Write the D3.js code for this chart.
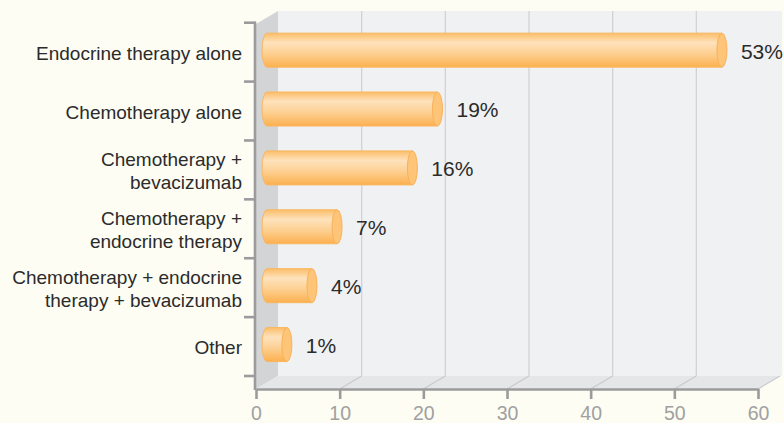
<!DOCTYPE html>
<html>
<head>
<meta charset="utf-8">
<script src="https://cdn.jsdelivr.net/npm/d3@7"></script>
<style>
  html, body { margin: 0; padding: 0; background: #fdfdf4; }
  svg { display: block; }
  text { font-family: "Liberation Sans", Arial, sans-serif; }
</style>
</head>
<body>
<div id="chart"></div>
<script>
// dados
var categories = [
  "Endocrine therapy alone",
  "Chemotherapy alone",
  "Chemotherapy +\nbevacizumab",
  "Chemotherapy +\nendocrine therapy",
  "Chemotherapy + endocrine\ntherapy + bevacizumab",
  "Other"
];
var values = [53, 19, 16, 7, 4, 1];
var valueLabels = ["53%", "19%", "16%", "7%", "4%", "1%"];
var xTicks = [0, 10, 20, 30, 40, 50, 60];

var width = 784, height = 423;

var svg = d3.select("#chart").append("svg")
  .attr("width", width)
  .attr("height", height);

var depthX = 22, depthY = 13; // 3d offset of the back wall
var axisY = 389;              // bottom axis line

var x = d3.scaleLinear().domain([0, 60]).range([256, 758]);
var y = d3.scaleBand().domain(categories).range([22.7, 376]).paddingInner(0);

var defs = svg.append("defs");

// gradient do corpo do cilindro
var grad = defs.append("linearGradient")
  .attr("id", "cyl").attr("x1", 0).attr("y1", 0).attr("x2", 0).attr("y2", 1);
grad.append("stop").attr("offset", "0%").attr("stop-color", "#fcbd68");
grad.append("stop").attr("offset", "28%").attr("stop-color", "#fee2bc");
grad.append("stop").attr("offset", "60%").attr("stop-color", "#fdd092");
grad.append("stop").attr("offset", "100%").attr("stop-color", "#fcb04f");

/*=== parede lateral, fundo e chão ===*/
var x0 = x(0), xMax = x(60);
var topBack = 11, bottomBack = axisY - depthY;

// back wall
svg.append("rect")
  .attr("x", x0 + depthX).attr("y", topBack)
  .attr("width", xMax - x0 + 2).attr("height", bottomBack - topBack)
  .attr("fill", "#f0f1f3");

// side wall
svg.append("path")
  .attr("d", "M" + x0 + "," + (topBack + depthY) + "L" + (x0 + depthX) + "," + topBack +
    "L" + (x0 + depthX) + "," + bottomBack + "L" + x0 + "," + axisY + "Z")
  .attr("fill", "#d3d4d6");

// floor
svg.append("path")
  .attr("d", "M" + x0 + "," + axisY + "L" + (x0 + depthX) + "," + bottomBack +
    "L" + (xMax + depthX) + "," + bottomBack + "L" + xMax + "," + axisY + "Z")
  .attr("fill", "#e5e6e8");

// gridlines
var grid = svg.append("g");
xTicks.filter(function(d) { return d > 0 && d < 60; }).forEach(function(d) {
  grid.append("line")
    .attr("x1", x(d) + depthX).attr("x2", x(d) + depthX)
    .attr("y1", topBack).attr("y2", bottomBack)
    .attr("stroke", "#d2d3d5").attr("stroke-width", 1.3);
});
xTicks.filter(function(d) { return d > 0; }).forEach(function(d) {
  grid.append("line")
    .attr("x1", x(d) + depthX).attr("x2", x(d))
    .attr("y1", bottomBack).attr("y2", axisY)
    .attr("stroke", "#c9cacc").attr("stroke-width", 1.2);
});

/*=== eixos ===*/
var axisColor = "#9b9b9d";

// left axis
svg.append("line")
  .attr("x1", x0 - 1).attr("x2", x0 - 1)
  .attr("y1", y.range()[0] - 1).attr("y2", axisY + 1)
  .attr("stroke", axisColor).attr("stroke-width", 2.6);

var bounds = categories.map(function(c) { return y(c); }).concat([y.range()[1]]);
svg.selectAll(".ytick")
  .data(bounds)
  .enter().append("line")
  .attr("class", "ytick")
  .attr("x1", x0 - 12).attr("x2", x0)
  .attr("y1", function(d) { return d; }).attr("y2", function(d) { return d; })
  .attr("stroke", axisColor).attr("stroke-width", 2.6);

// bottom axis
var xAxis = svg.append("g")
  .attr("transform", "translate(0," + axisY + ")")
  .call(d3.axisBottom(x).tickValues(xTicks).tickSize(10).tickSizeOuter(0).tickPadding(7));
xAxis.select(".domain").attr("stroke", axisColor).attr("stroke-width", 2.6);
xAxis.selectAll(".tick line").attr("stroke", axisColor).attr("stroke-width", 2.6);
xAxis.selectAll(".tick text")
  .attr("fill", "#a0a0a0")
  .attr("font-size", 19.5)
  .attr("dy", "0.7em")
  .attr("font-family", "Liberation Sans, Arial, sans-serif");

/*=== rótulos das categorias ===*/
var lineH = 22.5;
svg.selectAll(".cat")
  .data(categories)
  .enter().append("text")
  .attr("class", "cat")
  .attr("text-anchor", "end")
  .attr("fill", "#2b2b2b")
  .attr("font-size", 19)
  .each(function(d) {
    var lines = d.split("\n");
    var cy = y(d) + y.bandwidth() / 2 + 1;
    var first = cy - (lines.length - 1) * lineH / 2;
    var t = d3.select(this);
    lines.forEach(function(l, i) {
      t.append("tspan")
        .attr("x", 242)
        .attr("y", first + i * lineH)
        .attr("dy", "0.35em")
        .text(l);
    });
  });

/*=== cilindros ===*/
var barH = 34, rx = 5, capExtra = 11.5;
var bars = svg.selectAll(".bar")
  .data(values)
  .enter().append("g")
  .attr("class", "bar")
  .attr("transform", function(d, i) {
    return "translate(0," + (y(categories[i]) + y.bandwidth() / 2 - 2) + ")";
  });

bars.append("path")
  .attr("d", function(d) {
    var xl = x(0) + depthX / 2, xr = x(d) + depthX / 2 + capExtra, ry = barH / 2;
    return "M" + xr + "," + (-ry) + "L" + xl + "," + (-ry) +
      "A" + rx + "," + ry + " 0 0 0 " + xl + "," + ry +
      "L" + xr + "," + ry + "Z";
  })
  .attr("fill", "url(#cyl)")
  .attr("stroke", "#f9b760").attr("stroke-width", 1);

bars.append("ellipse")
  .attr("cx", function(d) { return x(d) + depthX / 2 + capExtra; })
  .attr("cy", 0)
  .attr("rx", rx).attr("ry", barH / 2)
  .attr("fill", "#fec477")
  .attr("stroke", "#f8b25a").attr("stroke-width", 1);

bars.append("text")
  .attr("x", function(d) { return x(d) + depthX / 2 + capExtra + rx + 14; })
  .attr("y", 1)
  .attr("dy", "0.35em")
  .attr("fill", "#2b2b2b")
  .attr("font-size", 21)
  .text(function(d, i) { return valueLabels[i]; });
</script>
</body>
</html>
